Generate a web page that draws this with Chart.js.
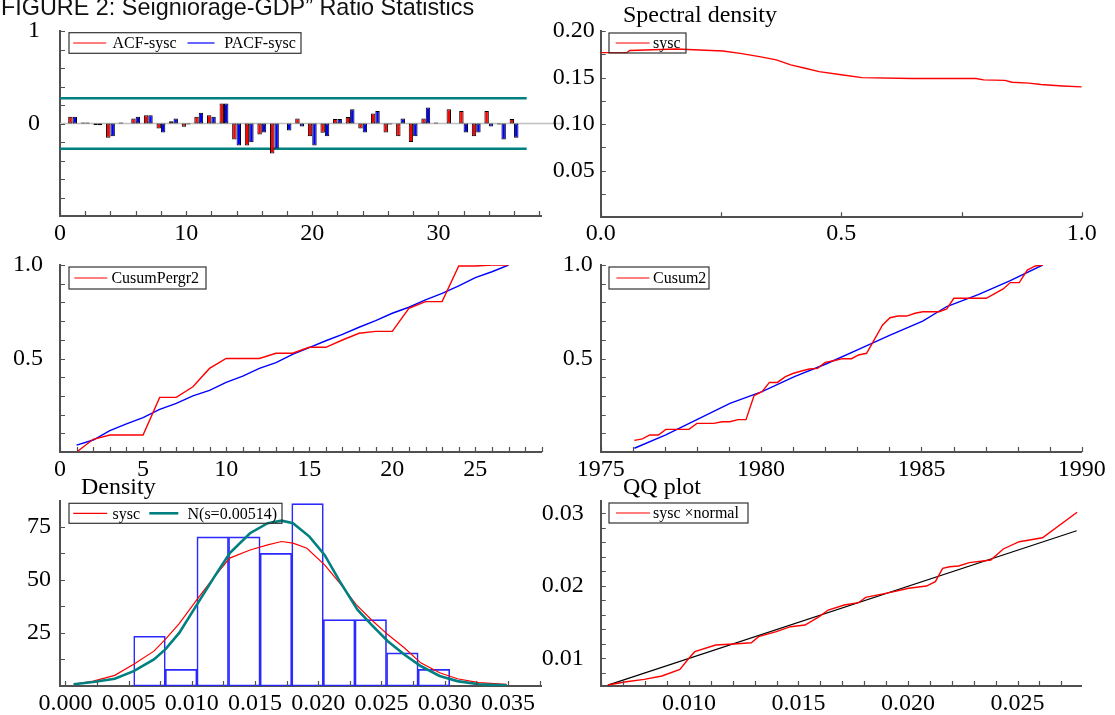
<!DOCTYPE html>
<html>
<head>
<meta charset="utf-8">
<script src="https://cdn.jsdelivr.net/npm/chart.js@4.4.1/dist/chart.umd.min.js"></script>
<style>
  html, body { margin: 0; padding: 0; background: #fff; }
  body { width: 1115px; height: 715px; position: relative; overflow: hidden; }
  canvas { position: absolute; }
  #figTitle {
    position: absolute; left: 1px; top: -4.5px; z-index: 5;
    font: 23.4px "Liberation Sans", Arial, sans-serif; line-height: 23px;
    white-space: nowrap; color: #111;
  }
</style>
</head>
<body>
<canvas id="acf" width="570" height="260" style="left:0;top:0"></canvas>
<canvas id="spec" width="585" height="260" style="left:530px;top:0"></canvas>
<canvas id="pergr" width="570" height="245" style="left:0;top:245px"></canvas>
<canvas id="cusum" width="585" height="245" style="left:530px;top:245px"></canvas>
<canvas id="dens" width="570" height="240" style="left:0;top:475px"></canvas>
<canvas id="qq" width="585" height="240" style="left:530px;top:475px"></canvas>
<div id="figTitle">FIGURE 2: Seigniorage-GDP” Ratio Statistics</div>

<script>
// --- DATA ---
// ACF / PACF
const acfLags = [1, 2, 3, 4, 5, 6, 7, 8, 9, 10, 11, 12, 13, 14, 15, 16, 17, 18,
  19, 20, 21, 22, 23, 24, 25, 26, 27, 28, 29, 30, 31, 32, 33, 34, 35, 36];
const acfValues = [0.072, 0.01, -0.015, -0.155, 0.01, 0.054, 0.09, -0.054, 0.025, -0.036, 0.072, 0.09,
  0.217, -0.173, -0.238, -0.119, -0.325, 0.0, 0.054, -0.137, -0.1, 0.05, 0.069, -0.054,
  0.108, -0.097, -0.137, -0.2, 0.054, 0.01, 0.155, 0.134, -0.137, 0.134, -0.011, 0.05];
const pacfValues = [0.072, 0.01, -0.02, -0.137, 0.0, 0.072, 0.09, -0.097, 0.054, -0.011, 0.115, 0.072,
  0.217, -0.238, -0.202, -0.097, -0.271, -0.076, -0.032, -0.238, -0.137, 0.05, 0.155, -0.097,
  0.134, -0.011, 0.054, -0.137, 0.173, 0.0, 0.0, -0.097, -0.097, -0.032, -0.173, -0.155];
const bandLevels = [0.272, -0.272];
const bandSpan = [0, 37];
const zeroSpan = [0, 39.8];

// Spectral density
const specFreq = [0, 0.055, 0.06, 0.157, 0.254, 0.29, 0.33, 0.365, 0.395, 0.425, 0.454, 0.5,
  0.543, 0.647, 0.78, 0.796, 0.84, 0.855, 0.89, 0.915, 0.96, 1.0];
const specSysc = [0.1768, 0.1768, 0.179, 0.1807, 0.1786, 0.176, 0.1725, 0.169, 0.1636, 0.160, 0.1564, 0.153,
  0.150, 0.149, 0.149, 0.1475, 0.147, 0.145, 0.144, 0.1425, 0.141, 0.140];

// CUSUM of periodogram
const pergrIdx = [1, 2, 3, 4, 5, 6, 7, 8, 9, 10, 11, 12, 13, 14, 15, 16, 17, 18, 19, 20,
  21, 22, 23, 24, 25, 26, 27];
const cusumPergr = [0, 0.068, 0.091, 0.091, 0.091, 0.292, 0.292, 0.349, 0.447, 0.5, 0.5, 0.5, 0.528, 0.528,
  0.56, 0.56, 0.599, 0.635, 0.645, 0.645, 0.768, 0.804, 0.804, 0.995, 0.995, 1.0, 1.0];
const pergrRef = [0.037, 0.064, 0.114, 0.15, 0.184, 0.228, 0.26, 0.30, 0.33, 0.372, 0.406, 0.447, 0.478, 0.522,
  0.558, 0.595, 0.629, 0.667, 0.702, 0.742, 0.774, 0.813, 0.848, 0.888, 0.932, 0.964, 1.0];

// CUSUM of squares
const cusumYears = [1976.05, 1976.3, 1976.53, 1976.8, 1977.03, 1977.75, 1978.0, 1978.53, 1978.78, 1979.03,
  1979.28, 1979.53, 1979.78, 1980.03, 1980.26, 1980.51, 1980.76, 1981.01, 1981.26, 1981.5, 1981.76,
  1982.0, 1982.26, 1982.54, 1982.82, 1983.04, 1983.29, 1983.54, 1983.79, 1984.02, 1984.27, 1984.54,
  1984.8, 1985.04, 1985.55, 1985.79, 1986.01, 1986.27, 1986.77, 1987.02, 1987.27, 1987.55, 1987.77,
  1988.05, 1988.3, 1988.55, 1988.78];
const cusum2 = [0.062, 0.07, 0.091, 0.091, 0.121, 0.121, 0.153, 0.153, 0.162, 0.162,
  0.173, 0.173, 0.301, 0.323, 0.372, 0.372, 0.403, 0.421, 0.433, 0.444, 0.447,
  0.479, 0.488, 0.499, 0.499, 0.519, 0.528, 0.604, 0.679, 0.718, 0.727, 0.727,
  0.742, 0.75, 0.75, 0.765, 0.822, 0.822, 0.822, 0.822, 0.845, 0.872, 0.906,
  0.906, 0.973, 0.995, 1.0];
const cusumRefYears = [1976.05, 1977.03, 1978.03, 1979.03, 1980.03, 1981.04, 1982.04, 1983.04,
  1984.04, 1985.04, 1985.79, 1986.77, 1987.77, 1988.78];
const cusumRef = [0.02, 0.091, 0.176, 0.26, 0.323, 0.403, 0.472, 0.549, 0.626, 0.70, 0.778, 0.842, 0.916, 1.0];

// Density
const binCenters = [0.00665, 0.00915, 0.01165, 0.01415, 0.01665, 0.01915, 0.02165, 0.02415, 0.02665, 0.02915];
const binHeights = [23.4, 7.8, 70.2, 70.2, 62.4, 85.8, 31.2, 31.2, 15.6, 7.8];
const kernX = [0.00065, 0.0022, 0.0039, 0.0054, 0.0070, 0.0079, 0.0090, 0.0104, 0.0118, 0.0130, 0.0146,
  0.0160, 0.0171, 0.0180, 0.0191, 0.0205, 0.0217, 0.0230, 0.0242, 0.0255, 0.0268, 0.0281, 0.0296,
  0.0310, 0.0327, 0.0349];
const kernSysc = [0.8, 2.3, 5, 10.2, 16.4, 21.9, 29.4, 40.6, 51.6, 60.2, 64, 66.4, 68, 67.2, 64.8, 57,
  48.4, 38.3, 31.2, 24.2, 18, 10.9, 6.25, 3.4, 1.6, 0.8];
const normX = [0.00065, 0.0022, 0.0039, 0.0054, 0.0070, 0.0079, 0.0090, 0.0104, 0.0118, 0.0130, 0.0146,
  0.0160, 0.0171, 0.0180, 0.0193, 0.0205, 0.0217, 0.0231, 0.0242, 0.0255, 0.0268, 0.0281, 0.0296,
  0.0310, 0.0327, 0.0349];
const normDens = [0.8, 1.9, 3.4, 7, 12.5, 17.2, 25, 38.3, 51.6, 62.5, 71.9, 76.6, 77.8, 76.6, 70.3, 61.7,
  49.2, 35.9, 28.9, 21.1, 14.8, 9.4, 4.7, 2.3, 0.8, 0.3];

// QQ plot
const qqNormal = [0.0063, 0.00714, 0.00796, 0.00877, 0.00959, 0.0100, 0.01027, 0.01122, 0.01204, 0.01285,
  0.01318, 0.01399, 0.01464, 0.0153, 0.01595, 0.01636, 0.01709, 0.01774, 0.01807, 0.01937, 0.02003,
  0.02084, 0.02125, 0.02158, 0.0219, 0.02231, 0.0228, 0.02378, 0.02435, 0.02508, 0.02614, 0.02772];
const qqSysc = [0.00632, 0.00677, 0.0071, 0.00756, 0.00848, 0.0100, 0.01091, 0.01183, 0.01197, 0.01215,
  0.01298, 0.01367, 0.01436, 0.01459, 0.01574, 0.01666, 0.01735, 0.01767, 0.01841, 0.01919, 0.01966,
  0.01997, 0.02057, 0.02241, 0.02263, 0.02273, 0.02319, 0.02356, 0.02508, 0.02608, 0.02663, 0.03014];
const qqLineX = [0.0063, 0.0277];
const qqLineY = [0.0063, 0.0276];

// tick labels
const acfXLabels = ['0', '10', '20', '30'];
const acfYLabels = ['0', '1'];
const specXLabels = ['0.0', '0.5', '1.0'];
const specYLabels = ['0.05', '0.10', '0.15', '0.20'];
const pergrXLabels = ['0', '5', '10', '15', '20', '25'];
const cusumYLabels = ['0.5', '1.0'];
const yearLabels = ['1975', '1980', '1985', '1990'];
const densXLabels = ['0.000', '0.005', '0.010', '0.015', '0.020', '0.025', '0.030', '0.035'];
const densYLabels = ['25', '50', '75'];
const qqXLabels = ['0.010', '0.015', '0.020', '0.025'];
const qqYLabels = ['0.01', '0.02', '0.03'];

// --- STYLE ---
const SERIF = '"Liberation Serif", "Times New Roman", Times, serif';
const AXIS = '#505050';
const RED = '#ff0000', BLUE = '#0000ff', TEAL = '#008080';

// --- HELPERS ---
function pts(xs, ys) { return xs.map((x, i) => ({ x, y: ys[i] })); }

function steps(a, b, s) {
  const out = [];
  const n = Math.round((b - a) / s);
  for (let i = 0; i <= n; i++) out.push(+(a + i * s).toFixed(6));
  return out;
}

function labelFor(v, list) {
  const hit = list.find(l => Math.abs(parseFloat(l) - v) < 1e-9);
  return hit === undefined ? '' : hit;
}

function scale(pos, min, max, tickVals, labels, size, pad) {
  return {
    type: 'linear', position: pos, min, max, bounds: 'data', offset: false,
    grid: { display: false, drawTicks: false },
    border: { display: true, color: AXIS, width: 2 },
    afterBuildTicks: s => { s.ticks = tickVals.map(v => ({ value: v })); },
    afterFit: s => {
      if (pos === 'left') s.width = size; else s.height = size;
      // keep label overflow from moving the plot area
      s.paddingTop = s.paddingBottom = s.paddingLeft = s.paddingRight = 0;
    },
    ticks: {
      autoSkip: false, maxRotation: 0, minRotation: 0, padding: pad,
      color: '#000', font: { family: SERIF, size: 24 },
      callback: v => labelFor(v, labels)
    }
  };
}

function line(label, data, color, width, extra) {
  return Object.assign({ type: 'line', label, data, borderColor: color, borderWidth: width,
    pointRadius: 0, tension: 0, fill: false, order: 1 }, extra || {});
}

// inward ticks, panel titles and boxed legends
function decor(cfg) {
  return {
    id: 'decor',
    afterDraw(chart) {
      const { ctx, chartArea: a, scales: { x, y } } = chart;
      ctx.save();
      ctx.strokeStyle = AXIS;
      ctx.lineWidth = 1.2;
      ctx.beginPath();
      x.ticks.forEach(t => {
        const p = Math.round(x.getPixelForValue(t.value)) + 0.5;
        if (p < a.left - 1 || p > a.right + 1) return;
        ctx.moveTo(p, a.bottom); ctx.lineTo(p, a.bottom - 5);
      });
      y.ticks.forEach(t => {
        const p = Math.round(y.getPixelForValue(t.value)) + 0.5;
        if (p < a.top - 1 || p > a.bottom + 1) return;
        ctx.moveTo(a.left, p); ctx.lineTo(a.left + 5, p);
      });
      ctx.stroke();

      ctx.fillStyle = '#000';
      ctx.textBaseline = 'middle';
      ctx.textAlign = 'left';
      if (cfg.title) {
        ctx.font = '24px ' + SERIF;
        ctx.fillText(cfg.title, a.left + cfg.tx, a.top + cfg.ty);
      }
      const L = cfg.legend;
      if (L) {
        const bx = a.left + L.x, by = a.top + L.y, cy = by + L.h / 2;
        ctx.strokeStyle = '#333';
        ctx.lineWidth = 1.2;
        ctx.strokeRect(bx, by, L.w, L.h);
        ctx.font = '16px ' + SERIF;
        L.items.forEach(it => {
          const ds = chart.data.datasets[it.ds];
          ctx.strokeStyle = ds.type === 'bar' ? ds.backgroundColor : ds.borderColor;
          ctx.lineWidth = it.width || 1.2;
          ctx.beginPath();
          ctx.moveTo(bx + it.lx, cy); ctx.lineTo(bx + it.lx + it.len, cy);
          ctx.stroke();
          ctx.fillText(ds.label, bx + it.tx, cy + 1);
        });
      }
      ctx.restore();
    }
  };
}

function panel(id, type, datasets, xs, ys, deco) {
  return new Chart(document.getElementById(id), {
    type,
    data: { datasets },
    options: {
      responsive: false, animation: false, devicePixelRatio: 1, events: [],
      layout: { autoPadding: false, padding: { top: deco.padTop, right: deco.padRight, left: 0, bottom: 0 } },
      plugins: { legend: { display: false }, tooltip: { enabled: false } },
      scales: { x: xs, y: ys }
    },
    plugins: [decor(deco)]
  });
}

Chart.defaults.font.family = SERIF;

// --- ACF / PACF ---
panel('acf', 'bar', [
  { type: 'bar', label: 'ACF-sysc', data: pts(acfLags, acfValues), backgroundColor: RED,
    borderColor: '#000', borderWidth: 1, borderSkipped: false, categoryPercentage: 0.7, barPercentage: 1, order: 1 },
  { type: 'bar', label: 'PACF-sysc', data: pts(acfLags, pacfValues), backgroundColor: BLUE,
    borderColor: '#000', borderWidth: 1, borderSkipped: false, categoryPercentage: 0.7, barPercentage: 1, order: 1 },
  line('zero', pts(zeroSpan, [0, 0]), '#c0c0c0', 1.5, { order: 3, clip: false }),
  line('upper', pts(bandSpan, [bandLevels[0], bandLevels[0]]), TEAL, 2.5, { order: 2 }),
  line('lower', pts(bandSpan, [bandLevels[1], bandLevels[1]]), TEAL, 2.5, { order: 2 })
],
  scale('bottom', 0, 38.2, steps(0, 38, 2), acfXLabels, 44, 3),
  scale('left', -1, 1, steps(-1, 1, 0.2), acfYLabels, 60, 20),
  { padTop: 31, padRight: 28.2,
    legend: { x: 9, y: 1.7, w: 232, h: 20.6, items: [
      { ds: 0, lx: 4.2, len: 33, tx: 43.5 },
      { ds: 1, lx: 118.5, len: 27, tx: 155.3 }] } });

// --- Spectral density ---
panel('spec', 'line', [
  line('sysc', pts(specFreq, specSysc), RED, 1.4)
],
  scale('bottom', 0, 1, steps(0, 1, 0.25), specXLabels, 42.7, 2),
  scale('left', 0, 0.2, steps(0, 0.2, 0.025), specYLabels, 70.7, 6),
  { padTop: 31, padRight: 33.2, title: 'Spectral density', tx: 22.3, ty: -15,
    legend: { x: 8.3, y: 2, w: 77, h: 20, items: [{ ds: 0, lx: 6.7, len: 34, tx: 44 }] } });

// --- CUSUM periodogram ---
panel('pergr', 'line', [
  line('CusumPergr2', pts(pergrIdx, cusumPergr), RED, 1.4),
  line('reference', pts(pergrIdx, pergrRef), BLUE, 1.4)
],
  scale('bottom', 0, 29, steps(0, 29, 1), pergrXLabels, 38, 3.5),
  scale('left', 0, 1, steps(0, 1, 0.1), cusumYLabels, 60, 17),
  { padTop: 20, padRight: 28.2,
    legend: { x: 9, y: 2, w: 137, h: 22, items: [{ ds: 0, lx: 5.3, len: 33, tx: 42.4 }] } });

// --- CUSUM squares ---
panel('cusum', 'line', [
  line('Cusum2', pts(cusumYears, cusum2), RED, 1.4),
  line('reference', pts(cusumRefYears, cusumRef), BLUE, 1.4)
],
  scale('bottom', 1975, 1990, steps(1975, 1990, 1), yearLabels, 38, 3.5),
  scale('left', 0, 1, steps(0, 1, 0.1), cusumYLabels, 70.7, 8),
  { padTop: 20, padRight: 33.2,
    legend: { x: 8.3, y: 2, w: 100, h: 22, items: [{ ds: 0, lx: 7.4, len: 33, tx: 44 }] } });

// --- Density ---
panel('dens', 'bar', [
  { type: 'bar', label: 'hist', data: pts(binCenters, binHeights), backgroundColor: 'rgba(0,0,0,0)',
    borderColor: '#2a2aff', borderWidth: 1, borderSkipped: false, categoryPercentage: 1, barPercentage: 1, order: 3 },
  line('sysc', pts(kernX, kernSysc), RED, 1.2, { order: 2 }),
  line('N(s=0.00514)', pts(normX, normDens), TEAL, 2.6, { order: 1 })
],
  scale('bottom', -0.00043, 0.03768, steps(0, 0.0375, 0.0025), densXLabels, 29, 3.5),
  scale('left', 0, 87.2, steps(0, 75, 12.5), densYLabels, 60, 9),
  { padTop: 25.7, padRight: 28.2, title: 'Density', tx: 21, ty: -12.7,
    legend: { x: 9, y: 2.6, w: 213, h: 20, items: [
      { ds: 1, lx: 4.2, len: 34, tx: 43.5 },
      { ds: 2, lx: 80.3, len: 29, tx: 118.5, width: 2.6 }] } });

// --- QQ plot ---
panel('qq', 'line', [
  line('sysc \u00d7normal', pts(qqNormal, qqSysc), RED, 1.4, { order: 1 }),
  line('normal', pts(qqLineX, qqLineY), '#000', 1.2, { order: 2 })
],
  scale('bottom', 0.005974, 0.027935, steps(0.006, 0.027, 0.001), qqXLabels, 29, 3),
  scale('left', 0.006179, 0.031738, steps(0.008, 0.030, 0.002), qqYLabels, 70.7, 17),
  { padTop: 25.7, padRight: 33.2, title: 'QQ plot', tx: 22.3, ty: -12.7,
    legend: { x: 8.3, y: 2.3, w: 139, h: 20, items: [{ ds: 0, lx: 7, len: 34, tx: 44 }] } });
</script>
</body>
</html>
